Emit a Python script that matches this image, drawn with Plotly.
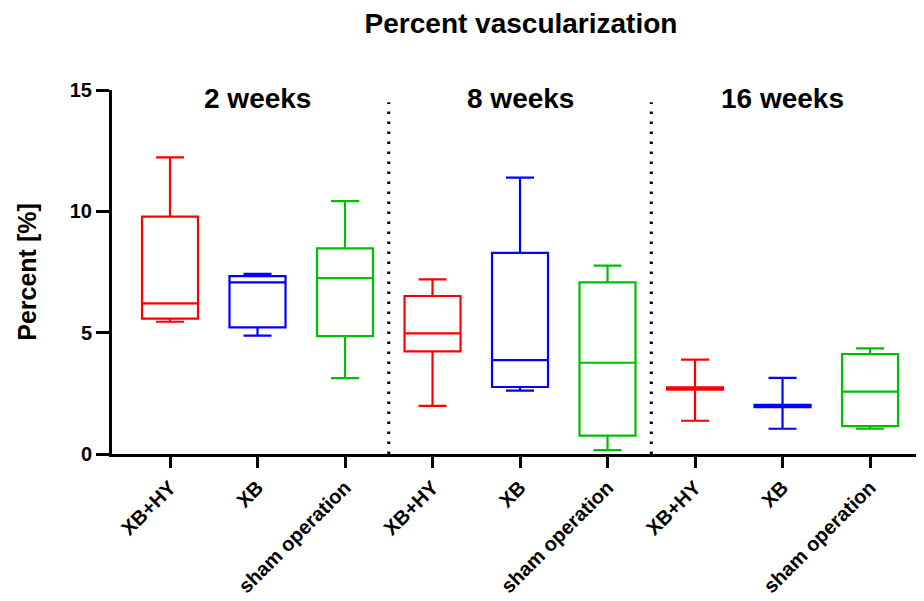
import plotly.graph_objects as go

groups = ["2 weeks", "8 weeks", "16 weeks"]
treatments = ["XB+HY", "XB", "sham operation"]
colors = ["#FF0000", "#0000FF", "#00BF00"]

# per box, ordered group-major: 2w (XB+HY, XB, sham), 8w (...), 16w (...)
lower = [5.45, 4.88, 3.13, 1.98, 2.61, 0.16, 1.37, 1.04, 1.04]
q1 = [5.58, 5.22, 4.86, 4.23, 2.76, 0.76, 2.65, 1.93, 1.15]
median = [6.21, 7.07, 7.25, 4.97, 3.87, 3.76, 2.70, 1.98, 2.57]
q3 = [9.78, 7.33, 8.47, 6.51, 8.29, 7.07, 2.75, 2.03, 4.12]
upper = [12.22, 7.42, 10.42, 7.20, 11.39, 7.76, 3.89, 3.14, 4.35]

yticks = [0, 5, 10, 15]

FONT = "Liberation Sans"

fig = go.Figure()
n_t = len(treatments)
positions = list(range(len(groups) * n_t))
labels = [t for g in groups for t in treatments]

for i, pos in enumerate(positions):
    c = colors[i % n_t]
    fig.add_trace(go.Box(
        x=[pos], q1=[q1[i]], median=[median[i]], q3=[q3[i]],
        lowerfence=[lower[i]], upperfence=[upper[i]],
        width=0.64, whiskerwidth=0.5,
        line=dict(color=c, width=2.2),
        fillcolor="rgba(0,0,0,0)",
        boxpoints=False, showlegend=False, hoverinfo="skip",
    ))

# dotted separators between groups
for g in range(1, len(groups)):
    xsep = g * n_t - 0.5
    fig.add_shape(type="line", x0=xsep, x1=xsep, xref="x", yref="y",
                  y0=0, y1=14.5, line=dict(color="black", width=3, dash="2.5px,7.5px"))

# group labels
for g, name in enumerate(groups):
    fig.add_annotation(x=g * n_t + (n_t - 1) / 2, y=14.63, xref="x", yref="y",
                       text=name, showarrow=False, yanchor="middle",
                       font=dict(size=28, color="black", family=FONT, weight="bold"))

fig.update_layout(
    width=924, height=601,
    margin=dict(l=104, r=10, t=82, b=155),
    paper_bgcolor="white", plot_bgcolor="white",
    font=dict(family=FONT, color="black"),
    title=dict(text="<b>Percent vascularization</b>", x=(521 - 8) / 924, xanchor="center",
               y=1 - 15 / 601, yanchor="middle", font=dict(size=28, color="black")),
)
fig.update_xaxes(
    range=[-0.663, 8.594], tickvals=positions, ticktext=labels, tickangle=-45,
    showline=True, linecolor="black", linewidth=3, ticks="outside", ticklen=11,
    tickwidth=3, tickcolor="black", showgrid=False, zeroline=False,
    tickfont=dict(size=20, color="black", weight="bold"),
    automargin=False,
)
fig.update_yaxes(
    range=[0, 15], tickvals=yticks, showline=True, linecolor="black", linewidth=3,
    ticks="outside", ticklen=13, tickwidth=3, tickcolor="black", showgrid=False,
    zeroline=False, tickfont=dict(size=20, color="black", weight="bold"),
    title=dict(text="<b>Percent [%]</b>", font=dict(size=25, color="black"), standoff=27),
    automargin=False,
)

fig.write_html("out.html")
